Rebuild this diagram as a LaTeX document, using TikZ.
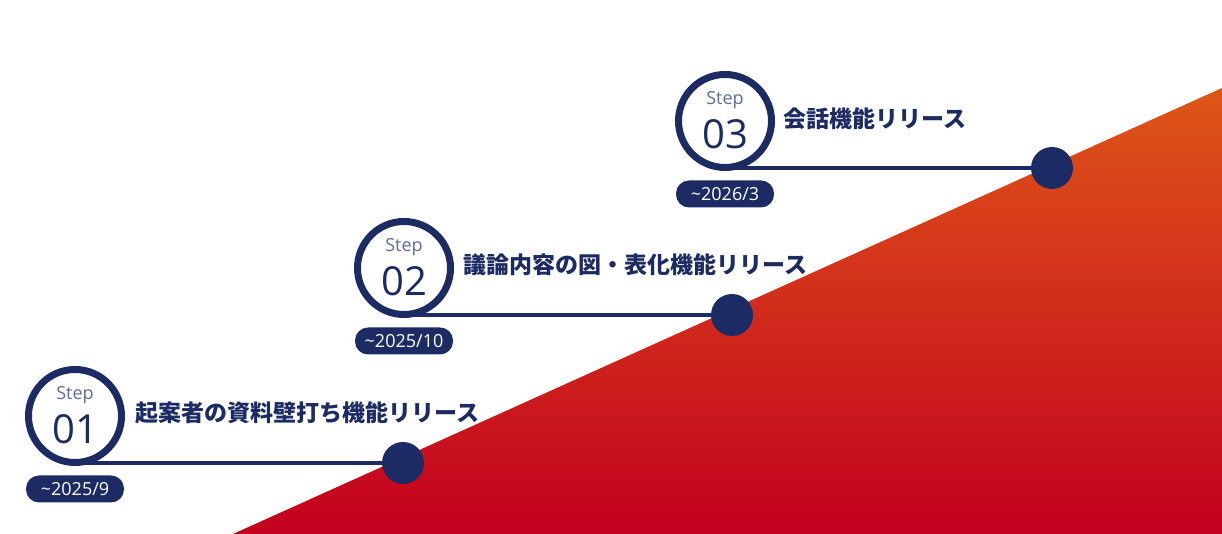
\documentclass[tikz,border=0pt]{standalone}
\usepackage{fontspec}
\setmainfont{Open Sans}
\newfontfamily\jpfont{Noto Sans CJK JP}
\usetikzlibrary{calc,backgrounds}
\definecolor{navy}{HTML}{1C2B63}
\definecolor{stepgray}{HTML}{5F6E98}
\definecolor{redlow}{HTML}{C3001F}
\definecolor{orangehigh}{HTML}{DE5618}

\begin{document}
\begin{tikzpicture}[x=1pt,y=1pt,every node/.style={inner sep=0pt},
    ring/.style={circle,draw=navy,line width=7pt,fill=white,minimum size=93pt},
    dot/.style={circle,fill=navy,minimum size=42pt},
    badge/.style={fill=navy,rounded corners=13pt,minimum width=98pt,minimum height=27pt,
      text=white,font=\fontsize{18}{18}\selectfont},
    steplbl/.style={text=stepgray,font=\fontsize{18}{18}\selectfont},
    stepnum/.style={text=navy,font=\fontsize{40}{40}\selectfont},
    title/.style={anchor=west,text=navy,font=\jpfont\bfseries\fontsize{23}{23}\selectfont},
    conn/.style={draw=navy,line width=3.5pt}]

    \useasboundingbox (0,0) rectangle (1222,534);

    \node[ring] (c1) at (75,118) {};
    \node[steplbl] at ($(c1)+(0,21)$) {Step};
    \node[stepnum] at ($(c1)+(0,-13)$) {01};
    \node[dot] (d1) at ($(c1)+(328,-47)$) {};
    \node[badge] (b1) at ($(c1)+(0,-73)$) {\textasciitilde 2025/9};
    \node[title] (t1) at ($(c1)+(60,3)$) {起案者の資料壁打ち機能リリース};

    \node[ring] (c2) at ($(c1)+(329,148)$) {};
    \node[steplbl] at ($(c2)+(0,21)$) {Step};
    \node[stepnum] at ($(c2)+(0,-13)$) {02};
    \node[dot] (d2) at ($(c2)+(328,-47)$) {};
    \node[badge] (b2) at ($(c2)+(0,-73)$) {\textasciitilde 2025/10};
    \node[title] (t2) at ($(c2)+(59,3)$) {議論内容の図・表化機能リリース};

    \node[ring] (c3) at ($(c2)+(321,147)$) {};
    \node[steplbl] at ($(c3)+(0,21)$) {Step};
    \node[stepnum] at ($(c3)+(0,-13)$) {03};
    \node[dot] (d3) at ($(c3)+(327,-47)$) {};
    \node[badge] (b3) at ($(c3)+(0,-73)$) {\textasciitilde 2026/3};
    \node[title] (t3) at ($(c3)+(58,2)$) {会話機能リリース};

    \begin{scope}[on background layer]
      \shade[top color=orangehigh,bottom color=redlow] (233,0) -- (1222,446) -- (1222,0) -- cycle;
      \draw[conn] (c1 |- d1) -- (d1);
      \draw[conn] (c2 |- d2) -- (d2);
      \draw[conn] (c3 |- d3) -- (d3);
    \end{scope}
  \end{tikzpicture}
\end{document}
